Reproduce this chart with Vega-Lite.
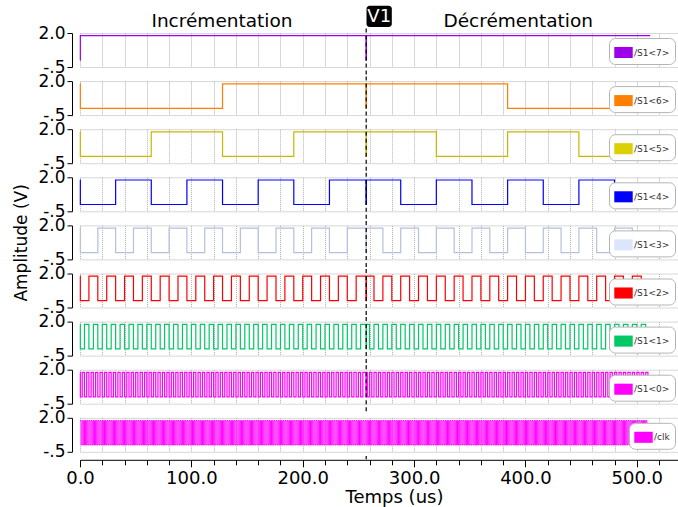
{
"$schema": "https://vega.github.io/schema/vega-lite/v6.json",
"background": "white",
"padding": {"left": 12, "top": 5, "right": 0, "bottom": 3},
"spacing": 14.1,
"bounds": "flush",
"resolve": {"scale": {"x": "independent", "y": "independent", "color": "independent"}, "legend": {"color": "independent"}},
"config": {
 "font": "DejaVu Sans",
 "view": {"stroke": null},
 "axis": {"gridColor": "#b0b0b0", "gridDash": [1, 1], "gridWidth": 1, "domainColor": "#000", "tickColor": "#000", "labelColor": "#000", "titleColor": "#000", "labelFont": "DejaVu Sans", "titleFont": "DejaVu Sans", "titleFontWeight": "normal"},
 "legend": {"orient": "bottom-right", "offset": 3, "padding": 5, "strokeColor": "#b4b4b4", "cornerRadius": 6, "fillColor": "#fff", "labelFontSize": 9, "labelColor": "#333", "labelFont": "DejaVu Sans", "symbolSize": 340, "symbolStrokeWidth": 0, "labelOffset": 1}
},
"datasets": {
 "b7": [{"t":0,"v":0},{"t":0.3,"v":1.8},{"t":256.8,"v":0},{"t":257.2,"v":1.8},{"t":512,"v":1.8}],
 "b6": [{"t":0,"v":1.8},{"t":0.3,"v":0},{"t":128,"v":1.8},{"t":256.8,"v":0},{"t":257.2,"v":1.8},{"t":384,"v":0},{"t":512,"v":0}],
 "b5": [{"t":0,"v":1.8},{"t":0.3,"v":0},{"t":64,"v":1.8},{"t":128,"v":0},{"t":192,"v":1.8},{"t":256.8,"v":0},{"t":257.2,"v":1.8},{"t":320,"v":0},{"t":384,"v":1.8},{"t":448,"v":0},{"t":512,"v":0}],
 "b4": [{"t":0,"v":1.8},{"t":0.3,"v":0},{"t":32,"v":1.8},{"t":64,"v":0},{"t":96,"v":1.8},{"t":128,"v":0},{"t":160,"v":1.8},{"t":192,"v":0},{"t":224,"v":1.8},{"t":256.8,"v":0},{"t":257.2,"v":1.8},{"t":288,"v":0},{"t":320,"v":1.8},{"t":352,"v":0},{"t":384,"v":1.8},{"t":416,"v":0},{"t":448,"v":1.8},{"t":480,"v":0},{"t":512,"v":0}],
 "b3": [{"t":0,"v":1.8},{"t":0.3,"v":0},{"t":16,"v":1.8},{"t":32,"v":0},{"t":48,"v":1.8},{"t":64,"v":0},{"t":80,"v":1.8},{"t":96,"v":0},{"t":112,"v":1.8},{"t":128,"v":0},{"t":144,"v":1.8},{"t":160,"v":0},{"t":176,"v":1.8},{"t":192,"v":0},{"t":208,"v":1.8},{"t":224,"v":0},{"t":240,"v":1.8},{"t":256.8,"v":0},{"t":257.2,"v":1.8},{"t":272,"v":0},{"t":288,"v":1.8},{"t":304,"v":0},{"t":320,"v":1.8},{"t":336,"v":0},{"t":352,"v":1.8},{"t":368,"v":0},{"t":384,"v":1.8},{"t":400,"v":0},{"t":416,"v":1.8},{"t":432,"v":0},{"t":448,"v":1.8},{"t":464,"v":0},{"t":480,"v":1.8},{"t":496,"v":0},{"t":512,"v":0}],
 "b2": [{"t":0,"v":1.8},{"t":0.3,"v":0},{"t":8,"v":1.8},{"t":16,"v":0},{"t":24,"v":1.8},{"t":32,"v":0},{"t":40,"v":1.8},{"t":48,"v":0},{"t":56,"v":1.8},{"t":64,"v":0},{"t":72,"v":1.8},{"t":80,"v":0},{"t":88,"v":1.8},{"t":96,"v":0},{"t":104,"v":1.8},{"t":112,"v":0},{"t":120,"v":1.8},{"t":128,"v":0},{"t":136,"v":1.8},{"t":144,"v":0},{"t":152,"v":1.8},{"t":160,"v":0},{"t":168,"v":1.8},{"t":176,"v":0},{"t":184,"v":1.8},{"t":192,"v":0},{"t":200,"v":1.8},{"t":208,"v":0},{"t":216,"v":1.8},{"t":224,"v":0},{"t":232,"v":1.8},{"t":240,"v":0},{"t":248,"v":1.8},{"t":256.8,"v":0},{"t":257.2,"v":1.8},{"t":264,"v":0},{"t":272,"v":1.8},{"t":280,"v":0},{"t":288,"v":1.8},{"t":296,"v":0},{"t":304,"v":1.8},{"t":312,"v":0},{"t":320,"v":1.8},{"t":328,"v":0},{"t":336,"v":1.8},{"t":344,"v":0},{"t":352,"v":1.8},{"t":360,"v":0},{"t":368,"v":1.8},{"t":376,"v":0},{"t":384,"v":1.8},{"t":392,"v":0},{"t":400,"v":1.8},{"t":408,"v":0},{"t":416,"v":1.8},{"t":424,"v":0},{"t":432,"v":1.8},{"t":440,"v":0},{"t":448,"v":1.8},{"t":456,"v":0},{"t":464,"v":1.8},{"t":472,"v":0},{"t":480,"v":1.8},{"t":488,"v":0},{"t":496,"v":1.8},{"t":504,"v":0},{"t":512,"v":0}],
 "b1": [{"t":0,"v":1.8},{"t":0.3,"v":0},{"t":4,"v":1.8},{"t":8,"v":0},{"t":12,"v":1.8},{"t":16,"v":0},{"t":20,"v":1.8},{"t":24,"v":0},{"t":28,"v":1.8},{"t":32,"v":0},{"t":36,"v":1.8},{"t":40,"v":0},{"t":44,"v":1.8},{"t":48,"v":0},{"t":52,"v":1.8},{"t":56,"v":0},{"t":60,"v":1.8},{"t":64,"v":0},{"t":68,"v":1.8},{"t":72,"v":0},{"t":76,"v":1.8},{"t":80,"v":0},{"t":84,"v":1.8},{"t":88,"v":0},{"t":92,"v":1.8},{"t":96,"v":0},{"t":100,"v":1.8},{"t":104,"v":0},{"t":108,"v":1.8},{"t":112,"v":0},{"t":116,"v":1.8},{"t":120,"v":0},{"t":124,"v":1.8},{"t":128,"v":0},{"t":132,"v":1.8},{"t":136,"v":0},{"t":140,"v":1.8},{"t":144,"v":0},{"t":148,"v":1.8},{"t":152,"v":0},{"t":156,"v":1.8},{"t":160,"v":0},{"t":164,"v":1.8},{"t":168,"v":0},{"t":172,"v":1.8},{"t":176,"v":0},{"t":180,"v":1.8},{"t":184,"v":0},{"t":188,"v":1.8},{"t":192,"v":0},{"t":196,"v":1.8},{"t":200,"v":0},{"t":204,"v":1.8},{"t":208,"v":0},{"t":212,"v":1.8},{"t":216,"v":0},{"t":220,"v":1.8},{"t":224,"v":0},{"t":228,"v":1.8},{"t":232,"v":0},{"t":236,"v":1.8},{"t":240,"v":0},{"t":244,"v":1.8},{"t":248,"v":0},{"t":252,"v":1.8},{"t":256.8,"v":0},{"t":257.2,"v":1.8},{"t":260,"v":0},{"t":264,"v":1.8},{"t":268,"v":0},{"t":272,"v":1.8},{"t":276,"v":0},{"t":280,"v":1.8},{"t":284,"v":0},{"t":288,"v":1.8},{"t":292,"v":0},{"t":296,"v":1.8},{"t":300,"v":0},{"t":304,"v":1.8},{"t":308,"v":0},{"t":312,"v":1.8},{"t":316,"v":0},{"t":320,"v":1.8},{"t":324,"v":0},{"t":328,"v":1.8},{"t":332,"v":0},{"t":336,"v":1.8},{"t":340,"v":0},{"t":344,"v":1.8},{"t":348,"v":0},{"t":352,"v":1.8},{"t":356,"v":0},{"t":360,"v":1.8},{"t":364,"v":0},{"t":368,"v":1.8},{"t":372,"v":0},{"t":376,"v":1.8},{"t":380,"v":0},{"t":384,"v":1.8},{"t":388,"v":0},{"t":392,"v":1.8},{"t":396,"v":0},{"t":400,"v":1.8},{"t":404,"v":0},{"t":408,"v":1.8},{"t":412,"v":0},{"t":416,"v":1.8},{"t":420,"v":0},{"t":424,"v":1.8},{"t":428,"v":0},{"t":432,"v":1.8},{"t":436,"v":0},{"t":440,"v":1.8},{"t":444,"v":0},{"t":448,"v":1.8},{"t":452,"v":0},{"t":456,"v":1.8},{"t":460,"v":0},{"t":464,"v":1.8},{"t":468,"v":0},{"t":472,"v":1.8},{"t":476,"v":0},{"t":480,"v":1.8},{"t":484,"v":0},{"t":488,"v":1.8},{"t":492,"v":0},{"t":496,"v":1.8},{"t":500,"v":0},{"t":504,"v":1.8},{"t":508,"v":0},{"t":512,"v":0}],
 "b0": [{"t":0,"v":1.8},{"t":0.3,"v":0},{"t":2,"v":1.8},{"t":4,"v":0},{"t":6,"v":1.8},{"t":8,"v":0},{"t":10,"v":1.8},{"t":12,"v":0},{"t":14,"v":1.8},{"t":16,"v":0},{"t":18,"v":1.8},{"t":20,"v":0},{"t":22,"v":1.8},{"t":24,"v":0},{"t":26,"v":1.8},{"t":28,"v":0},{"t":30,"v":1.8},{"t":32,"v":0},{"t":34,"v":1.8},{"t":36,"v":0},{"t":38,"v":1.8},{"t":40,"v":0},{"t":42,"v":1.8},{"t":44,"v":0},{"t":46,"v":1.8},{"t":48,"v":0},{"t":50,"v":1.8},{"t":52,"v":0},{"t":54,"v":1.8},{"t":56,"v":0},{"t":58,"v":1.8},{"t":60,"v":0},{"t":62,"v":1.8},{"t":64,"v":0},{"t":66,"v":1.8},{"t":68,"v":0},{"t":70,"v":1.8},{"t":72,"v":0},{"t":74,"v":1.8},{"t":76,"v":0},{"t":78,"v":1.8},{"t":80,"v":0},{"t":82,"v":1.8},{"t":84,"v":0},{"t":86,"v":1.8},{"t":88,"v":0},{"t":90,"v":1.8},{"t":92,"v":0},{"t":94,"v":1.8},{"t":96,"v":0},{"t":98,"v":1.8},{"t":100,"v":0},{"t":102,"v":1.8},{"t":104,"v":0},{"t":106,"v":1.8},{"t":108,"v":0},{"t":110,"v":1.8},{"t":112,"v":0},{"t":114,"v":1.8},{"t":116,"v":0},{"t":118,"v":1.8},{"t":120,"v":0},{"t":122,"v":1.8},{"t":124,"v":0},{"t":126,"v":1.8},{"t":128,"v":0},{"t":130,"v":1.8},{"t":132,"v":0},{"t":134,"v":1.8},{"t":136,"v":0},{"t":138,"v":1.8},{"t":140,"v":0},{"t":142,"v":1.8},{"t":144,"v":0},{"t":146,"v":1.8},{"t":148,"v":0},{"t":150,"v":1.8},{"t":152,"v":0},{"t":154,"v":1.8},{"t":156,"v":0},{"t":158,"v":1.8},{"t":160,"v":0},{"t":162,"v":1.8},{"t":164,"v":0},{"t":166,"v":1.8},{"t":168,"v":0},{"t":170,"v":1.8},{"t":172,"v":0},{"t":174,"v":1.8},{"t":176,"v":0},{"t":178,"v":1.8},{"t":180,"v":0},{"t":182,"v":1.8},{"t":184,"v":0},{"t":186,"v":1.8},{"t":188,"v":0},{"t":190,"v":1.8},{"t":192,"v":0},{"t":194,"v":1.8},{"t":196,"v":0},{"t":198,"v":1.8},{"t":200,"v":0},{"t":202,"v":1.8},{"t":204,"v":0},{"t":206,"v":1.8},{"t":208,"v":0},{"t":210,"v":1.8},{"t":212,"v":0},{"t":214,"v":1.8},{"t":216,"v":0},{"t":218,"v":1.8},{"t":220,"v":0},{"t":222,"v":1.8},{"t":224,"v":0},{"t":226,"v":1.8},{"t":228,"v":0},{"t":230,"v":1.8},{"t":232,"v":0},{"t":234,"v":1.8},{"t":236,"v":0},{"t":238,"v":1.8},{"t":240,"v":0},{"t":242,"v":1.8},{"t":244,"v":0},{"t":246,"v":1.8},{"t":248,"v":0},{"t":250,"v":1.8},{"t":252,"v":0},{"t":254,"v":1.8},{"t":256.8,"v":0},{"t":257.2,"v":1.8},{"t":258,"v":0},{"t":260,"v":1.8},{"t":262,"v":0},{"t":264,"v":1.8},{"t":266,"v":0},{"t":268,"v":1.8},{"t":270,"v":0},{"t":272,"v":1.8},{"t":274,"v":0},{"t":276,"v":1.8},{"t":278,"v":0},{"t":280,"v":1.8},{"t":282,"v":0},{"t":284,"v":1.8},{"t":286,"v":0},{"t":288,"v":1.8},{"t":290,"v":0},{"t":292,"v":1.8},{"t":294,"v":0},{"t":296,"v":1.8},{"t":298,"v":0},{"t":300,"v":1.8},{"t":302,"v":0},{"t":304,"v":1.8},{"t":306,"v":0},{"t":308,"v":1.8},{"t":310,"v":0},{"t":312,"v":1.8},{"t":314,"v":0},{"t":316,"v":1.8},{"t":318,"v":0},{"t":320,"v":1.8},{"t":322,"v":0},{"t":324,"v":1.8},{"t":326,"v":0},{"t":328,"v":1.8},{"t":330,"v":0},{"t":332,"v":1.8},{"t":334,"v":0},{"t":336,"v":1.8},{"t":338,"v":0},{"t":340,"v":1.8},{"t":342,"v":0},{"t":344,"v":1.8},{"t":346,"v":0},{"t":348,"v":1.8},{"t":350,"v":0},{"t":352,"v":1.8},{"t":354,"v":0},{"t":356,"v":1.8},{"t":358,"v":0},{"t":360,"v":1.8},{"t":362,"v":0},{"t":364,"v":1.8},{"t":366,"v":0},{"t":368,"v":1.8},{"t":370,"v":0},{"t":372,"v":1.8},{"t":374,"v":0},{"t":376,"v":1.8},{"t":378,"v":0},{"t":380,"v":1.8},{"t":382,"v":0},{"t":384,"v":1.8},{"t":386,"v":0},{"t":388,"v":1.8},{"t":390,"v":0},{"t":392,"v":1.8},{"t":394,"v":0},{"t":396,"v":1.8},{"t":398,"v":0},{"t":400,"v":1.8},{"t":402,"v":0},{"t":404,"v":1.8},{"t":406,"v":0},{"t":408,"v":1.8},{"t":410,"v":0},{"t":412,"v":1.8},{"t":414,"v":0},{"t":416,"v":1.8},{"t":418,"v":0},{"t":420,"v":1.8},{"t":422,"v":0},{"t":424,"v":1.8},{"t":426,"v":0},{"t":428,"v":1.8},{"t":430,"v":0},{"t":432,"v":1.8},{"t":434,"v":0},{"t":436,"v":1.8},{"t":438,"v":0},{"t":440,"v":1.8},{"t":442,"v":0},{"t":444,"v":1.8},{"t":446,"v":0},{"t":448,"v":1.8},{"t":450,"v":0},{"t":452,"v":1.8},{"t":454,"v":0},{"t":456,"v":1.8},{"t":458,"v":0},{"t":460,"v":1.8},{"t":462,"v":0},{"t":464,"v":1.8},{"t":466,"v":0},{"t":468,"v":1.8},{"t":470,"v":0},{"t":472,"v":1.8},{"t":474,"v":0},{"t":476,"v":1.8},{"t":478,"v":0},{"t":480,"v":1.8},{"t":482,"v":0},{"t":484,"v":1.8},{"t":486,"v":0},{"t":488,"v":1.8},{"t":490,"v":0},{"t":492,"v":1.8},{"t":494,"v":0},{"t":496,"v":1.8},{"t":498,"v":0},{"t":500,"v":1.8},{"t":502,"v":0},{"t":504,"v":1.8},{"t":506,"v":0},{"t":508,"v":1.8},{"t":510,"v":0},{"t":512,"v":0}],
 "clk": [{"t":0,"v":1.8},{"t":1,"v":0},{"t":2,"v":1.8},{"t":3,"v":0},{"t":4,"v":1.8},{"t":5,"v":0},{"t":6,"v":1.8},{"t":7,"v":0},{"t":8,"v":1.8},{"t":9,"v":0},{"t":10,"v":1.8},{"t":11,"v":0},{"t":12,"v":1.8},{"t":13,"v":0},{"t":14,"v":1.8},{"t":15,"v":0},{"t":16,"v":1.8},{"t":17,"v":0},{"t":18,"v":1.8},{"t":19,"v":0},{"t":20,"v":1.8},{"t":21,"v":0},{"t":22,"v":1.8},{"t":23,"v":0},{"t":24,"v":1.8},{"t":25,"v":0},{"t":26,"v":1.8},{"t":27,"v":0},{"t":28,"v":1.8},{"t":29,"v":0},{"t":30,"v":1.8},{"t":31,"v":0},{"t":32,"v":1.8},{"t":33,"v":0},{"t":34,"v":1.8},{"t":35,"v":0},{"t":36,"v":1.8},{"t":37,"v":0},{"t":38,"v":1.8},{"t":39,"v":0},{"t":40,"v":1.8},{"t":41,"v":0},{"t":42,"v":1.8},{"t":43,"v":0},{"t":44,"v":1.8},{"t":45,"v":0},{"t":46,"v":1.8},{"t":47,"v":0},{"t":48,"v":1.8},{"t":49,"v":0},{"t":50,"v":1.8},{"t":51,"v":0},{"t":52,"v":1.8},{"t":53,"v":0},{"t":54,"v":1.8},{"t":55,"v":0},{"t":56,"v":1.8},{"t":57,"v":0},{"t":58,"v":1.8},{"t":59,"v":0},{"t":60,"v":1.8},{"t":61,"v":0},{"t":62,"v":1.8},{"t":63,"v":0},{"t":64,"v":1.8},{"t":65,"v":0},{"t":66,"v":1.8},{"t":67,"v":0},{"t":68,"v":1.8},{"t":69,"v":0},{"t":70,"v":1.8},{"t":71,"v":0},{"t":72,"v":1.8},{"t":73,"v":0},{"t":74,"v":1.8},{"t":75,"v":0},{"t":76,"v":1.8},{"t":77,"v":0},{"t":78,"v":1.8},{"t":79,"v":0},{"t":80,"v":1.8},{"t":81,"v":0},{"t":82,"v":1.8},{"t":83,"v":0},{"t":84,"v":1.8},{"t":85,"v":0},{"t":86,"v":1.8},{"t":87,"v":0},{"t":88,"v":1.8},{"t":89,"v":0},{"t":90,"v":1.8},{"t":91,"v":0},{"t":92,"v":1.8},{"t":93,"v":0},{"t":94,"v":1.8},{"t":95,"v":0},{"t":96,"v":1.8},{"t":97,"v":0},{"t":98,"v":1.8},{"t":99,"v":0},{"t":100,"v":1.8},{"t":101,"v":0},{"t":102,"v":1.8},{"t":103,"v":0},{"t":104,"v":1.8},{"t":105,"v":0},{"t":106,"v":1.8},{"t":107,"v":0},{"t":108,"v":1.8},{"t":109,"v":0},{"t":110,"v":1.8},{"t":111,"v":0},{"t":112,"v":1.8},{"t":113,"v":0},{"t":114,"v":1.8},{"t":115,"v":0},{"t":116,"v":1.8},{"t":117,"v":0},{"t":118,"v":1.8},{"t":119,"v":0},{"t":120,"v":1.8},{"t":121,"v":0},{"t":122,"v":1.8},{"t":123,"v":0},{"t":124,"v":1.8},{"t":125,"v":0},{"t":126,"v":1.8},{"t":127,"v":0},{"t":128,"v":1.8},{"t":129,"v":0},{"t":130,"v":1.8},{"t":131,"v":0},{"t":132,"v":1.8},{"t":133,"v":0},{"t":134,"v":1.8},{"t":135,"v":0},{"t":136,"v":1.8},{"t":137,"v":0},{"t":138,"v":1.8},{"t":139,"v":0},{"t":140,"v":1.8},{"t":141,"v":0},{"t":142,"v":1.8},{"t":143,"v":0},{"t":144,"v":1.8},{"t":145,"v":0},{"t":146,"v":1.8},{"t":147,"v":0},{"t":148,"v":1.8},{"t":149,"v":0},{"t":150,"v":1.8},{"t":151,"v":0},{"t":152,"v":1.8},{"t":153,"v":0},{"t":154,"v":1.8},{"t":155,"v":0},{"t":156,"v":1.8},{"t":157,"v":0},{"t":158,"v":1.8},{"t":159,"v":0},{"t":160,"v":1.8},{"t":161,"v":0},{"t":162,"v":1.8},{"t":163,"v":0},{"t":164,"v":1.8},{"t":165,"v":0},{"t":166,"v":1.8},{"t":167,"v":0},{"t":168,"v":1.8},{"t":169,"v":0},{"t":170,"v":1.8},{"t":171,"v":0},{"t":172,"v":1.8},{"t":173,"v":0},{"t":174,"v":1.8},{"t":175,"v":0},{"t":176,"v":1.8},{"t":177,"v":0},{"t":178,"v":1.8},{"t":179,"v":0},{"t":180,"v":1.8},{"t":181,"v":0},{"t":182,"v":1.8},{"t":183,"v":0},{"t":184,"v":1.8},{"t":185,"v":0},{"t":186,"v":1.8},{"t":187,"v":0},{"t":188,"v":1.8},{"t":189,"v":0},{"t":190,"v":1.8},{"t":191,"v":0},{"t":192,"v":1.8},{"t":193,"v":0},{"t":194,"v":1.8},{"t":195,"v":0},{"t":196,"v":1.8},{"t":197,"v":0},{"t":198,"v":1.8},{"t":199,"v":0},{"t":200,"v":1.8},{"t":201,"v":0},{"t":202,"v":1.8},{"t":203,"v":0},{"t":204,"v":1.8},{"t":205,"v":0},{"t":206,"v":1.8},{"t":207,"v":0},{"t":208,"v":1.8},{"t":209,"v":0},{"t":210,"v":1.8},{"t":211,"v":0},{"t":212,"v":1.8},{"t":213,"v":0},{"t":214,"v":1.8},{"t":215,"v":0},{"t":216,"v":1.8},{"t":217,"v":0},{"t":218,"v":1.8},{"t":219,"v":0},{"t":220,"v":1.8},{"t":221,"v":0},{"t":222,"v":1.8},{"t":223,"v":0},{"t":224,"v":1.8},{"t":225,"v":0},{"t":226,"v":1.8},{"t":227,"v":0},{"t":228,"v":1.8},{"t":229,"v":0},{"t":230,"v":1.8},{"t":231,"v":0},{"t":232,"v":1.8},{"t":233,"v":0},{"t":234,"v":1.8},{"t":235,"v":0},{"t":236,"v":1.8},{"t":237,"v":0},{"t":238,"v":1.8},{"t":239,"v":0},{"t":240,"v":1.8},{"t":241,"v":0},{"t":242,"v":1.8},{"t":243,"v":0},{"t":244,"v":1.8},{"t":245,"v":0},{"t":246,"v":1.8},{"t":247,"v":0},{"t":248,"v":1.8},{"t":249,"v":0},{"t":250,"v":1.8},{"t":251,"v":0},{"t":252,"v":1.8},{"t":253,"v":0},{"t":254,"v":1.8},{"t":255,"v":0},{"t":256,"v":1.8},{"t":257,"v":0},{"t":258,"v":1.8},{"t":259,"v":0},{"t":260,"v":1.8},{"t":261,"v":0},{"t":262,"v":1.8},{"t":263,"v":0},{"t":264,"v":1.8},{"t":265,"v":0},{"t":266,"v":1.8},{"t":267,"v":0},{"t":268,"v":1.8},{"t":269,"v":0},{"t":270,"v":1.8},{"t":271,"v":0},{"t":272,"v":1.8},{"t":273,"v":0},{"t":274,"v":1.8},{"t":275,"v":0},{"t":276,"v":1.8},{"t":277,"v":0},{"t":278,"v":1.8},{"t":279,"v":0},{"t":280,"v":1.8},{"t":281,"v":0},{"t":282,"v":1.8},{"t":283,"v":0},{"t":284,"v":1.8},{"t":285,"v":0},{"t":286,"v":1.8},{"t":287,"v":0},{"t":288,"v":1.8},{"t":289,"v":0},{"t":290,"v":1.8},{"t":291,"v":0},{"t":292,"v":1.8},{"t":293,"v":0},{"t":294,"v":1.8},{"t":295,"v":0},{"t":296,"v":1.8},{"t":297,"v":0},{"t":298,"v":1.8},{"t":299,"v":0},{"t":300,"v":1.8},{"t":301,"v":0},{"t":302,"v":1.8},{"t":303,"v":0},{"t":304,"v":1.8},{"t":305,"v":0},{"t":306,"v":1.8},{"t":307,"v":0},{"t":308,"v":1.8},{"t":309,"v":0},{"t":310,"v":1.8},{"t":311,"v":0},{"t":312,"v":1.8},{"t":313,"v":0},{"t":314,"v":1.8},{"t":315,"v":0},{"t":316,"v":1.8},{"t":317,"v":0},{"t":318,"v":1.8},{"t":319,"v":0},{"t":320,"v":1.8},{"t":321,"v":0},{"t":322,"v":1.8},{"t":323,"v":0},{"t":324,"v":1.8},{"t":325,"v":0},{"t":326,"v":1.8},{"t":327,"v":0},{"t":328,"v":1.8},{"t":329,"v":0},{"t":330,"v":1.8},{"t":331,"v":0},{"t":332,"v":1.8},{"t":333,"v":0},{"t":334,"v":1.8},{"t":335,"v":0},{"t":336,"v":1.8},{"t":337,"v":0},{"t":338,"v":1.8},{"t":339,"v":0},{"t":340,"v":1.8},{"t":341,"v":0},{"t":342,"v":1.8},{"t":343,"v":0},{"t":344,"v":1.8},{"t":345,"v":0},{"t":346,"v":1.8},{"t":347,"v":0},{"t":348,"v":1.8},{"t":349,"v":0},{"t":350,"v":1.8},{"t":351,"v":0},{"t":352,"v":1.8},{"t":353,"v":0},{"t":354,"v":1.8},{"t":355,"v":0},{"t":356,"v":1.8},{"t":357,"v":0},{"t":358,"v":1.8},{"t":359,"v":0},{"t":360,"v":1.8},{"t":361,"v":0},{"t":362,"v":1.8},{"t":363,"v":0},{"t":364,"v":1.8},{"t":365,"v":0},{"t":366,"v":1.8},{"t":367,"v":0},{"t":368,"v":1.8},{"t":369,"v":0},{"t":370,"v":1.8},{"t":371,"v":0},{"t":372,"v":1.8},{"t":373,"v":0},{"t":374,"v":1.8},{"t":375,"v":0},{"t":376,"v":1.8},{"t":377,"v":0},{"t":378,"v":1.8},{"t":379,"v":0},{"t":380,"v":1.8},{"t":381,"v":0},{"t":382,"v":1.8},{"t":383,"v":0},{"t":384,"v":1.8},{"t":385,"v":0},{"t":386,"v":1.8},{"t":387,"v":0},{"t":388,"v":1.8},{"t":389,"v":0},{"t":390,"v":1.8},{"t":391,"v":0},{"t":392,"v":1.8},{"t":393,"v":0},{"t":394,"v":1.8},{"t":395,"v":0},{"t":396,"v":1.8},{"t":397,"v":0},{"t":398,"v":1.8},{"t":399,"v":0},{"t":400,"v":1.8},{"t":401,"v":0},{"t":402,"v":1.8},{"t":403,"v":0},{"t":404,"v":1.8},{"t":405,"v":0},{"t":406,"v":1.8},{"t":407,"v":0},{"t":408,"v":1.8},{"t":409,"v":0},{"t":410,"v":1.8},{"t":411,"v":0},{"t":412,"v":1.8},{"t":413,"v":0},{"t":414,"v":1.8},{"t":415,"v":0},{"t":416,"v":1.8},{"t":417,"v":0},{"t":418,"v":1.8},{"t":419,"v":0},{"t":420,"v":1.8},{"t":421,"v":0},{"t":422,"v":1.8},{"t":423,"v":0},{"t":424,"v":1.8},{"t":425,"v":0},{"t":426,"v":1.8},{"t":427,"v":0},{"t":428,"v":1.8},{"t":429,"v":0},{"t":430,"v":1.8},{"t":431,"v":0},{"t":432,"v":1.8},{"t":433,"v":0},{"t":434,"v":1.8},{"t":435,"v":0},{"t":436,"v":1.8},{"t":437,"v":0},{"t":438,"v":1.8},{"t":439,"v":0},{"t":440,"v":1.8},{"t":441,"v":0},{"t":442,"v":1.8},{"t":443,"v":0},{"t":444,"v":1.8},{"t":445,"v":0},{"t":446,"v":1.8},{"t":447,"v":0},{"t":448,"v":1.8},{"t":449,"v":0},{"t":450,"v":1.8},{"t":451,"v":0},{"t":452,"v":1.8},{"t":453,"v":0},{"t":454,"v":1.8},{"t":455,"v":0},{"t":456,"v":1.8},{"t":457,"v":0},{"t":458,"v":1.8},{"t":459,"v":0},{"t":460,"v":1.8},{"t":461,"v":0},{"t":462,"v":1.8},{"t":463,"v":0},{"t":464,"v":1.8},{"t":465,"v":0},{"t":466,"v":1.8},{"t":467,"v":0},{"t":468,"v":1.8},{"t":469,"v":0},{"t":470,"v":1.8},{"t":471,"v":0},{"t":472,"v":1.8},{"t":473,"v":0},{"t":474,"v":1.8},{"t":475,"v":0},{"t":476,"v":1.8},{"t":477,"v":0},{"t":478,"v":1.8},{"t":479,"v":0},{"t":480,"v":1.8},{"t":481,"v":0},{"t":482,"v":1.8},{"t":483,"v":0},{"t":484,"v":1.8},{"t":485,"v":0},{"t":486,"v":1.8},{"t":487,"v":0},{"t":488,"v":1.8},{"t":489,"v":0},{"t":490,"v":1.8},{"t":491,"v":0},{"t":492,"v":1.8},{"t":493,"v":0},{"t":494,"v":1.8},{"t":495,"v":0},{"t":496,"v":1.8},{"t":497,"v":0},{"t":498,"v":1.8},{"t":499,"v":0},{"t":500,"v":1.8},{"t":501,"v":0},{"t":502,"v":1.8},{"t":503,"v":0},{"t":504,"v":1.8},{"t":505,"v":0},{"t":506,"v":1.8},{"t":507,"v":0},{"t":508,"v":1.8},{"t":509,"v":0},{"t":510,"v":0}]
},
"vconcat": [
 {"width": 598, "height": 34, "layer": [
  {"data": {"name": "b7"}, "mark": {"type": "line", "interpolate": "step-after", "strokeWidth": 1.2, "color": "#9b00e8"},
   "encoding": {
    "x": {"field": "t", "type": "quantitative", "scale": {"domain": [0, 537], "nice": false}, "axis": {"title": null, "labels": false, "ticks": false, "domain": false, "tickCount": 40, "values": [0,20,40,60,80,100,120,140,160,180,200,220,240,260,280,300,320,340,360,380,400,420,440,460,480,500,520]}},
    "y": {"field": "v", "type": "quantitative", "scale": {"domain": [-0.5, 2.0], "nice": false, "zero": false}, "axis": {"title": null, "values": [-0.5,-0.25,0,0.25,0.5,0.75,1,1.25,1.5,1.75,2], "labelExpr": "datum.value === 2 ? '2.0' : datum.value === -0.5 ? '-.5' : ''", "offset": 8, "tickSize": 5, "labelFontSize": 17, "labelPadding": 2, "labelOverlap": false, "labelFlush": false, "labelBound": false}}
   }},
  {"data": {"values": []}, "mark": {"type": "square", "filled": true, "opacity": 1}, "encoding": {"color": {"datum": "/S1<7>", "scale": {"domain": ["/S1<7>"], "range": ["#9b00e8"]}, "legend": {"title": null, "symbolType": "M-1,-0.6H1V0.6H-1Z"}}}},
  {"data": {"values": [{"t": 257}]}, "mark": {"type": "rule", "strokeDash": [4, 3], "color": "#000", "strokeWidth": 1.2}, "encoding": {"x": {"field": "t", "type": "quantitative"}, "y": {"datum": -1.05}, "y2": {"datum": 2.45}}},
  {"data": {"values": [{}]}, "mark": {"type": "rect", "color": "#000", "cornerRadius": 3}, "encoding": {"x": {"datum": 257.3}, "x2": {"datum": 280}, "y": {"datum": 2.45}, "y2": {"datum": 4.0}}},
  {"data": {"values": [{}]}, "mark": {"type": "text", "color": "#fff", "fontSize": 18}, "encoding": {"x": {"datum": 268.7}, "y": {"datum": 3.2}, "text": {"value": "V1"}}},
  {"data": {"values": [{}]}, "mark": {"type": "text", "color": "#000", "fontSize": 18.5}, "encoding": {"x": {"datum": 127.5}, "y": {"datum": 2.9}, "text": {"value": "Incrémentation"}}},
  {"data": {"values": [{}]}, "mark": {"type": "text", "color": "#000", "fontSize": 18.5}, "encoding": {"x": {"datum": 393.5}, "y": {"datum": 2.9}, "text": {"value": "Décrémentation"}}}
 ]},
 {"width": 598, "height": 34, "layer": [
  {"data": {"name": "b6"}, "mark": {"type": "line", "interpolate": "step-after", "strokeWidth": 1.2, "color": "#ff8000"},
   "encoding": {
    "x": {"field": "t", "type": "quantitative", "scale": {"domain": [0, 537], "nice": false}, "axis": {"title": null, "labels": false, "ticks": false, "domain": false, "tickCount": 40, "values": [0,20,40,60,80,100,120,140,160,180,200,220,240,260,280,300,320,340,360,380,400,420,440,460,480,500,520]}},
    "y": {"field": "v", "type": "quantitative", "scale": {"domain": [-0.5, 2.0], "nice": false, "zero": false}, "axis": {"title": null, "values": [-0.5,-0.25,0,0.25,0.5,0.75,1,1.25,1.5,1.75,2], "labelExpr": "datum.value === 2 ? '2.0' : datum.value === -0.5 ? '-.5' : ''", "offset": 8, "tickSize": 5, "labelFontSize": 17, "labelPadding": 2, "labelOverlap": false, "labelFlush": false, "labelBound": false}}
   }},
  {"data": {"values": []}, "mark": {"type": "square", "filled": true, "opacity": 1}, "encoding": {"color": {"datum": "/S1<6>", "scale": {"domain": ["/S1<6>"], "range": ["#ff8000"]}, "legend": {"title": null, "symbolType": "M-1,-0.6H1V0.6H-1Z"}}}},
  {"data": {"values": [{"t": 257}]}, "mark": {"type": "rule", "strokeDash": [4, 3], "color": "#000", "strokeWidth": 1.2}, "encoding": {"x": {"field": "t", "type": "quantitative"}, "y": {"datum": -1.05}, "y2": {"datum": 2.55}}}
 ]},
 {"width": 598, "height": 34, "layer": [
  {"data": {"name": "b5"}, "mark": {"type": "line", "interpolate": "step-after", "strokeWidth": 1.2, "color": "#c8b800"},
   "encoding": {
    "x": {"field": "t", "type": "quantitative", "scale": {"domain": [0, 537], "nice": false}, "axis": {"title": null, "labels": false, "ticks": false, "domain": false, "tickCount": 40, "values": [0,20,40,60,80,100,120,140,160,180,200,220,240,260,280,300,320,340,360,380,400,420,440,460,480,500,520]}},
    "y": {"field": "v", "type": "quantitative", "scale": {"domain": [-0.5, 2.0], "nice": false, "zero": false}, "axis": {"title": null, "values": [-0.5,-0.25,0,0.25,0.5,0.75,1,1.25,1.5,1.75,2], "labelExpr": "datum.value === 2 ? '2.0' : datum.value === -0.5 ? '-.5' : ''", "offset": 8, "tickSize": 5, "labelFontSize": 17, "labelPadding": 2, "labelOverlap": false, "labelFlush": false, "labelBound": false}}
   }},
  {"data": {"values": []}, "mark": {"type": "square", "filled": true, "opacity": 1}, "encoding": {"color": {"datum": "/S1<5>", "scale": {"domain": ["/S1<5>"], "range": ["#ddd000"]}, "legend": {"title": null, "symbolType": "M-1,-0.6H1V0.6H-1Z"}}}},
  {"data": {"values": [{"t": 257}]}, "mark": {"type": "rule", "strokeDash": [4, 3], "color": "#000", "strokeWidth": 1.2}, "encoding": {"x": {"field": "t", "type": "quantitative"}, "y": {"datum": -1.05}, "y2": {"datum": 2.55}}}
 ]},
 {"width": 598, "height": 34, "layer": [
  {"data": {"name": "b4"}, "mark": {"type": "line", "interpolate": "step-after", "strokeWidth": 1.2, "color": "#0000ff"},
   "encoding": {
    "x": {"field": "t", "type": "quantitative", "scale": {"domain": [0, 537], "nice": false}, "axis": {"title": null, "labels": false, "ticks": false, "domain": false, "tickCount": 40, "values": [0,20,40,60,80,100,120,140,160,180,200,220,240,260,280,300,320,340,360,380,400,420,440,460,480,500,520]}},
    "y": {"field": "v", "type": "quantitative", "scale": {"domain": [-0.5, 2.0], "nice": false, "zero": false}, "axis": {"title": null, "values": [-0.5,-0.25,0,0.25,0.5,0.75,1,1.25,1.5,1.75,2], "labelExpr": "datum.value === 2 ? '2.0' : datum.value === -0.5 ? '-.5' : ''", "offset": 8, "tickSize": 5, "labelFontSize": 17, "labelPadding": 2, "labelOverlap": false, "labelFlush": false, "labelBound": false}}
   }},
  {"data": {"values": []}, "mark": {"type": "square", "filled": true, "opacity": 1}, "encoding": {"color": {"datum": "/S1<4>", "scale": {"domain": ["/S1<4>"], "range": ["#0000ff"]}, "legend": {"title": null, "symbolType": "M-1,-0.6H1V0.6H-1Z"}}}},
  {"data": {"values": [{"t": 257}]}, "mark": {"type": "rule", "strokeDash": [4, 3], "color": "#000", "strokeWidth": 1.2}, "encoding": {"x": {"field": "t", "type": "quantitative"}, "y": {"datum": -1.05}, "y2": {"datum": 2.55}}}
 ]},
 {"width": 598, "height": 34, "layer": [
  {"data": {"name": "b3"}, "mark": {"type": "line", "interpolate": "step-after", "strokeWidth": 1.2, "color": "#b4c0dc"},
   "encoding": {
    "x": {"field": "t", "type": "quantitative", "scale": {"domain": [0, 537], "nice": false}, "axis": {"title": null, "labels": false, "ticks": false, "domain": false, "tickCount": 40, "values": [0,20,40,60,80,100,120,140,160,180,200,220,240,260,280,300,320,340,360,380,400,420,440,460,480,500,520]}},
    "y": {"field": "v", "type": "quantitative", "scale": {"domain": [-0.5, 2.0], "nice": false, "zero": false}, "axis": {"title": "Amplitude (V)", "titleFontSize": 17, "titlePadding": 7, "values": [-0.5,-0.25,0,0.25,0.5,0.75,1,1.25,1.5,1.75,2], "labelExpr": "datum.value === 2 ? '2.0' : datum.value === -0.5 ? '-.5' : ''", "offset": 8, "tickSize": 5, "labelFontSize": 17, "labelPadding": 2, "labelOverlap": false, "labelFlush": false, "labelBound": false}}
   }},
  {"data": {"values": []}, "mark": {"type": "square", "filled": true, "opacity": 1}, "encoding": {"color": {"datum": "/S1<3>", "scale": {"domain": ["/S1<3>"], "range": ["#dce6fa"]}, "legend": {"title": null, "symbolType": "M-1,-0.6H1V0.6H-1Z"}}}},
  {"data": {"values": [{"t": 257}]}, "mark": {"type": "rule", "strokeDash": [4, 3], "color": "#000", "strokeWidth": 1.2}, "encoding": {"x": {"field": "t", "type": "quantitative"}, "y": {"datum": -1.05}, "y2": {"datum": 2.55}}}
 ]},
 {"width": 598, "height": 34, "layer": [
  {"data": {"name": "b2"}, "mark": {"type": "line", "interpolate": "step-after", "strokeWidth": 1.2, "color": "#ff0000"},
   "encoding": {
    "x": {"field": "t", "type": "quantitative", "scale": {"domain": [0, 537], "nice": false}, "axis": {"title": null, "labels": false, "ticks": false, "domain": false, "tickCount": 40, "values": [0,20,40,60,80,100,120,140,160,180,200,220,240,260,280,300,320,340,360,380,400,420,440,460,480,500,520]}},
    "y": {"field": "v", "type": "quantitative", "scale": {"domain": [-0.5, 2.0], "nice": false, "zero": false}, "axis": {"title": null, "values": [-0.5,-0.25,0,0.25,0.5,0.75,1,1.25,1.5,1.75,2], "labelExpr": "datum.value === 2 ? '2.0' : datum.value === -0.5 ? '-.5' : ''", "offset": 8, "tickSize": 5, "labelFontSize": 17, "labelPadding": 2, "labelOverlap": false, "labelFlush": false, "labelBound": false}}
   }},
  {"data": {"values": []}, "mark": {"type": "square", "filled": true, "opacity": 1}, "encoding": {"color": {"datum": "/S1<2>", "scale": {"domain": ["/S1<2>"], "range": ["#ff0000"]}, "legend": {"title": null, "symbolType": "M-1,-0.6H1V0.6H-1Z"}}}},
  {"data": {"values": [{"t": 257}]}, "mark": {"type": "rule", "strokeDash": [4, 3], "color": "#000", "strokeWidth": 1.2}, "encoding": {"x": {"field": "t", "type": "quantitative"}, "y": {"datum": -1.05}, "y2": {"datum": 2.55}}}
 ]},
 {"width": 598, "height": 34, "layer": [
  {"data": {"name": "b1"}, "mark": {"type": "line", "interpolate": "step-after", "strokeWidth": 1.2, "color": "#00c864"},
   "encoding": {
    "x": {"field": "t", "type": "quantitative", "scale": {"domain": [0, 537], "nice": false}, "axis": {"title": null, "labels": false, "ticks": false, "domain": false, "tickCount": 40, "values": [0,20,40,60,80,100,120,140,160,180,200,220,240,260,280,300,320,340,360,380,400,420,440,460,480,500,520]}},
    "y": {"field": "v", "type": "quantitative", "scale": {"domain": [-0.5, 2.0], "nice": false, "zero": false}, "axis": {"title": null, "values": [-0.5,-0.25,0,0.25,0.5,0.75,1,1.25,1.5,1.75,2], "labelExpr": "datum.value === 2 ? '2.0' : datum.value === -0.5 ? '-.5' : ''", "offset": 8, "tickSize": 5, "labelFontSize": 17, "labelPadding": 2, "labelOverlap": false, "labelFlush": false, "labelBound": false}}
   }},
  {"data": {"values": []}, "mark": {"type": "square", "filled": true, "opacity": 1}, "encoding": {"color": {"datum": "/S1<1>", "scale": {"domain": ["/S1<1>"], "range": ["#00c864"]}, "legend": {"title": null, "symbolType": "M-1,-0.6H1V0.6H-1Z"}}}},
  {"data": {"values": [{"t": 257}]}, "mark": {"type": "rule", "strokeDash": [4, 3], "color": "#000", "strokeWidth": 1.2}, "encoding": {"x": {"field": "t", "type": "quantitative"}, "y": {"datum": -1.05}, "y2": {"datum": 2.55}}}
 ]},
 {"width": 598, "height": 34, "layer": [
  {"data": {"name": "b0"}, "mark": {"type": "line", "interpolate": "step-after", "strokeWidth": 1.2, "color": "#ff00ff"},
   "encoding": {
    "x": {"field": "t", "type": "quantitative", "scale": {"domain": [0, 537], "nice": false}, "axis": {"title": null, "labels": false, "ticks": false, "domain": false, "tickCount": 40, "values": [0,20,40,60,80,100,120,140,160,180,200,220,240,260,280,300,320,340,360,380,400,420,440,460,480,500,520]}},
    "y": {"field": "v", "type": "quantitative", "scale": {"domain": [-0.5, 2.0], "nice": false, "zero": false}, "axis": {"title": null, "values": [-0.5,-0.25,0,0.25,0.5,0.75,1,1.25,1.5,1.75,2], "labelExpr": "datum.value === 2 ? '2.0' : datum.value === -0.5 ? '-.5' : ''", "offset": 8, "tickSize": 5, "labelFontSize": 17, "labelPadding": 2, "labelOverlap": false, "labelFlush": false, "labelBound": false}}
   }},
  {"data": {"values": []}, "mark": {"type": "square", "filled": true, "opacity": 1}, "encoding": {"color": {"datum": "/S1<0>", "scale": {"domain": ["/S1<0>"], "range": ["#ff00ff"]}, "legend": {"title": null, "symbolType": "M-1,-0.6H1V0.6H-1Z"}}}},
  {"data": {"values": [{"t": 257}]}, "mark": {"type": "rule", "strokeDash": [4, 3], "color": "#000", "strokeWidth": 1.2}, "encoding": {"x": {"field": "t", "type": "quantitative"}, "y": {"datum": -1.05}, "y2": {"datum": 2.55}}}
 ]},
 {"width": 598, "height": 34, "layer": [
  {"data": {"name": "clk"}, "mark": {"type": "line", "interpolate": "step-after", "strokeWidth": 1, "color": "#ff00ff"},
   "encoding": {
    "x": {"field": "t", "type": "quantitative", "scale": {"domain": [0, 537], "nice": false}, "axis": {"title": "Temps (us)", "titleFontSize": 18, "titlePadding": 1, "titleX": 314, "tickCount": 40, "values": [0,20,40,60,80,100,120,140,160,180,200,220,240,260,280,300,320,340,360,380,400,420,440,460,480,500,520], "labelExpr": "datum.value % 100 === 0 ? format(datum.value, '.1f') : ''", "offset": 8, "tickSize": {"condition": {"test": "datum.value % 100 === 0", "value": 7}, "value": 5}, "labelFontSize": 18, "labelPadding": 3, "labelDx": 6, "labelOverlap": false, "labelFlush": false, "labelBound": false}},
    "y": {"field": "v", "type": "quantitative", "scale": {"domain": [-0.5, 2.0], "nice": false, "zero": false}, "axis": {"title": null, "values": [-0.5,-0.25,0,0.25,0.5,0.75,1,1.25,1.5,1.75,2], "labelExpr": "datum.value === 2 ? '2.0' : datum.value === -0.5 ? '-.5' : ''", "offset": 8, "tickSize": 5, "labelFontSize": 17, "labelPadding": 2, "labelOverlap": false, "labelFlush": false, "labelBound": false}}
   }},
  {"data": {"values": []}, "mark": {"type": "square", "filled": true, "opacity": 1}, "encoding": {"color": {"datum": "/clk", "scale": {"domain": ["/clk"], "range": ["#ff00ff"]}, "legend": {"title": null, "symbolType": "M-1,-0.6H1V0.6H-1Z"}}}},
  {"data": {"values": [{"t": 257}]}, "mark": {"type": "rule", "strokeDash": [4, 3], "color": "#000", "strokeWidth": 1.2}, "encoding": {"x": {"field": "t", "type": "quantitative"}, "y": {"datum": -1.05}, "y2": {"datum": -0.8}}}
 ]}
]
}
